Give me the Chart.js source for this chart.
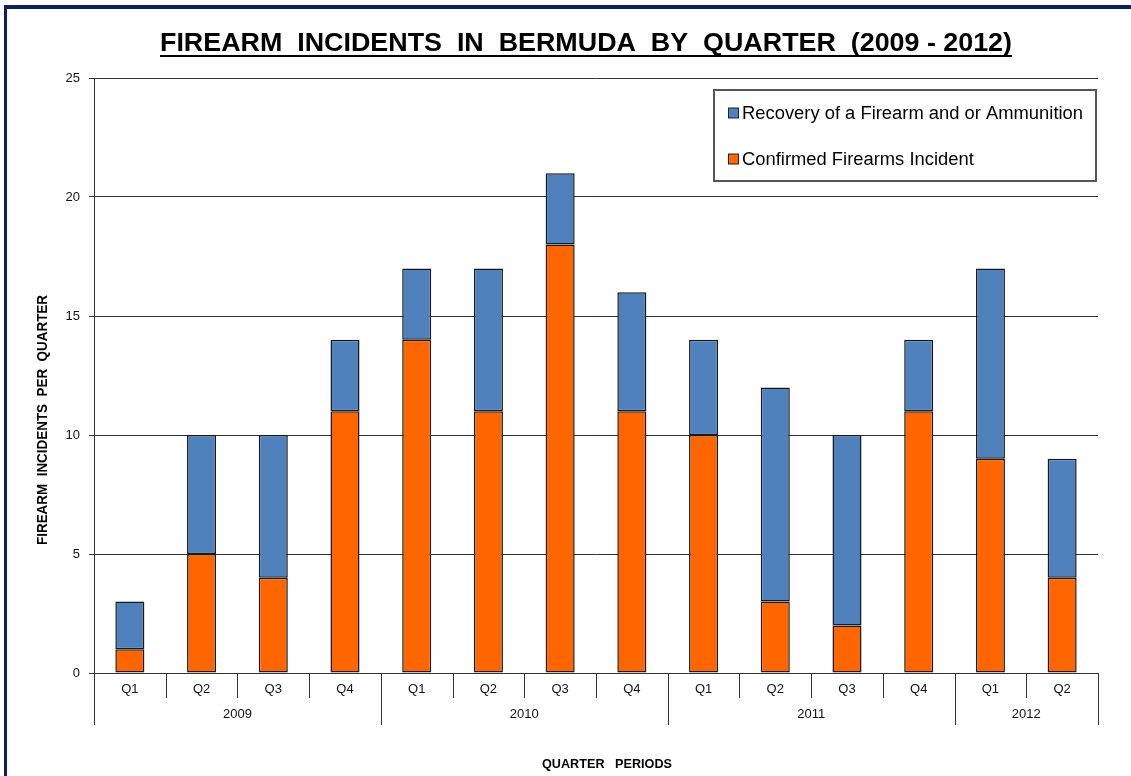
<!DOCTYPE html>
<html>
<head>
<meta charset="utf-8">
<script src="https://cdn.jsdelivr.net/npm/chart.js@4.4.1/dist/chart.umd.min.js"></script>
<style>
html,body{margin:0;padding:0;background:#fff;}
#wrap{width:1131px;height:776px;position:relative;}
</style>
</head>
<body>
<div id="wrap"><canvas id="c" width="1131" height="776"></canvas></div>
<script>
// ---- data ----
const quarterLabels = ['Q1','Q2','Q3','Q4','Q1','Q2','Q3','Q4','Q1','Q2','Q3','Q4','Q1','Q2'];
const yearLabels = ['2009','2010','2011','2012'];
const yearSpans = [4,4,4,2];
const confirmedIncidents = [1,5,4,11,14,11,18,11,10,3,2,11,9,4];
const firearmRecoveries = [2,5,6,3,3,6,3,5,4,9,8,3,8,5];
const yTicks = [0,5,10,15,20,25];
const titleText = 'FIREARM  INCIDENTS  IN  BERMUDA  BY  QUARTER  (2009 - 2012)';
const yTitleText = 'FIREARM  INCIDENTS  PER  QUARTER';
const xTitleText = 'QUARTER   PERIODS';

const FONT = '"Liberation Sans", Arial, sans-serif';
const BLUE = '#4F81BD', ORANGE = '#FF6600';

function fitText(ctx, text, x, y, width, font, align) {
  ctx.save();
  ctx.font = font;
  const w = ctx.measureText(text).width;
  ctx.translate(x, y);
  ctx.scale(width / w, 1);
  ctx.textAlign = align || 'center';
  ctx.fillText(text, 0, 0);
  ctx.restore();
}

const decor = {
  id: 'decor',
  beforeDraw(chart) {
    const ctx = chart.ctx;
    ctx.save();
    ctx.fillStyle = '#fff';
    ctx.fillRect(0, 0, chart.width, chart.height);
    ctx.fillStyle = '#0B215E';
    ctx.fillRect(4, 5, chart.width - 4, 4);
    ctx.fillRect(4, 5, 3, chart.height - 5);
    ctx.restore();
  },
  afterDraw(chart) {
    const ctx = chart.ctx;
    const xs = chart.scales.x;
    const area = chart.chartArea;
    const n = quarterLabels.length;
    const w = (xs.right - xs.left) / n;
    ctx.save();
    // quarter / year separators
    ctx.strokeStyle = '#333';
    ctx.lineWidth = 1;
    const yearBounds = [0];
    yearSpans.reduce((a, s) => { yearBounds.push(a + s); return a + s; }, 0);
    for (let i = 0; i <= n; i++) {
      const x = Math.round(xs.left + i * w) + 0.5;
      const long = yearBounds.includes(i);
      ctx.beginPath();
      ctx.moveTo(x, area.bottom);
      ctx.lineTo(x, area.bottom + (long ? 52 : 25));
      ctx.stroke();
    }
    // year labels
    ctx.fillStyle = '#111';
    ctx.font = '13px ' + FONT;
    ctx.textAlign = 'center';
    ctx.textBaseline = 'middle';
    yearLabels.forEach((lab, k) => {
      const a = yearBounds[k], b = yearBounds[k + 1];
      const cx = xs.left + (a + b) / 2 * w;
      ctx.fillText(lab, cx, area.bottom + 41);
    });
    // title
    ctx.fillStyle = '#000';
    ctx.textBaseline = 'alphabetic';
    fitText(ctx, titleText, 586, 51, 852, 'bold 25px ' + FONT);
    ctx.fillRect(160, 55, 852, 2);
    // y title
    ctx.save();
    ctx.translate(47, 420);
    ctx.rotate(-Math.PI / 2);
    fitText(ctx, yTitleText, 0, 0, 250, 'bold 14px ' + FONT);
    ctx.restore();
    // x title
    fitText(ctx, xTitleText, 607, 768, 130, 'bold 13px ' + FONT);
    // legend
    const lx = 714, ly = 90, lw = 382, lh = 91;
    ctx.fillStyle = '#fff';
    ctx.fillRect(lx, ly, lw, lh);
    ctx.strokeStyle = '#555';
    ctx.lineWidth = 2;
    ctx.strokeRect(lx, ly, lw, lh);
    const items = [chart.data.datasets[1], chart.data.datasets[0]];
    ctx.textBaseline = 'middle';
    ctx.font = '18px ' + FONT;
    const refW = ctx.measureText(items[0].label).width;
    const sx = 341 / refW;
    items.forEach((ds, k) => {
      const cy = 113 + k * 46;
      ctx.fillStyle = ds.backgroundColor;
      ctx.fillRect(728.5, cy - 5, 10, 10);
      ctx.strokeStyle = '#222';
      ctx.lineWidth = 1;
      ctx.strokeRect(728.5, cy - 5, 10, 10);
      ctx.fillStyle = '#000';
      ctx.save();
      ctx.translate(742, cy + 1);
      ctx.scale(sx, 1);
      ctx.textAlign = 'left';
      ctx.fillText(ds.label, 0, 0);
      ctx.restore();
    });
    ctx.restore();
  }
};

new Chart(document.getElementById('c'), {
  type: 'bar',
  data: {
    labels: quarterLabels,
    datasets: [
      { label: 'Confirmed Firearms Incident', data: confirmedIncidents, backgroundColor: ORANGE, borderColor: '#1a1a1a', borderWidth: 1.5, borderSkipped: false, barPercentage: 0.81, categoryPercentage: 0.5 },
      { label: 'Recovery of a Firearm and or Ammunition', data: firearmRecoveries, backgroundColor: BLUE, borderColor: '#1a1a1a', borderWidth: 1.5, borderSkipped: false, barPercentage: 0.81, categoryPercentage: 0.5 }
    ]
  },
  options: {
    responsive: false,
    animation: false,
    devicePixelRatio: 1,
    layout: { padding: { top: 78, right: 33, left: 0, bottom: 0 } },
    plugins: { legend: { display: false }, title: { display: false }, tooltip: { enabled: false } },
    scales: {
      x: {
        stacked: true,
        grid: { display: false, drawTicks: false },
        border: { display: true, color: '#333', width: 1 },
        ticks: { color: '#111', font: { family: FONT, size: 13 }, padding: 9, maxRotation: 0 },
        afterFit(s) { s.height = 103; }
      },
      y: {
        stacked: true,
        min: 0, max: 25,
        afterBuildTicks(s) { s.ticks = yTicks.map(v => ({ value: v })); },
        grid: { color: '#333', lineWidth: 1, tickLength: 5, drawTicks: true },
        border: { display: true, color: '#333', width: 1 },
        ticks: { color: '#111', font: { family: FONT, size: 13 }, padding: 9 },
        afterFit(s) { s.width = 94; }
      }
    }
  },
  plugins: [decor]
});
</script>
</body>
</html>
